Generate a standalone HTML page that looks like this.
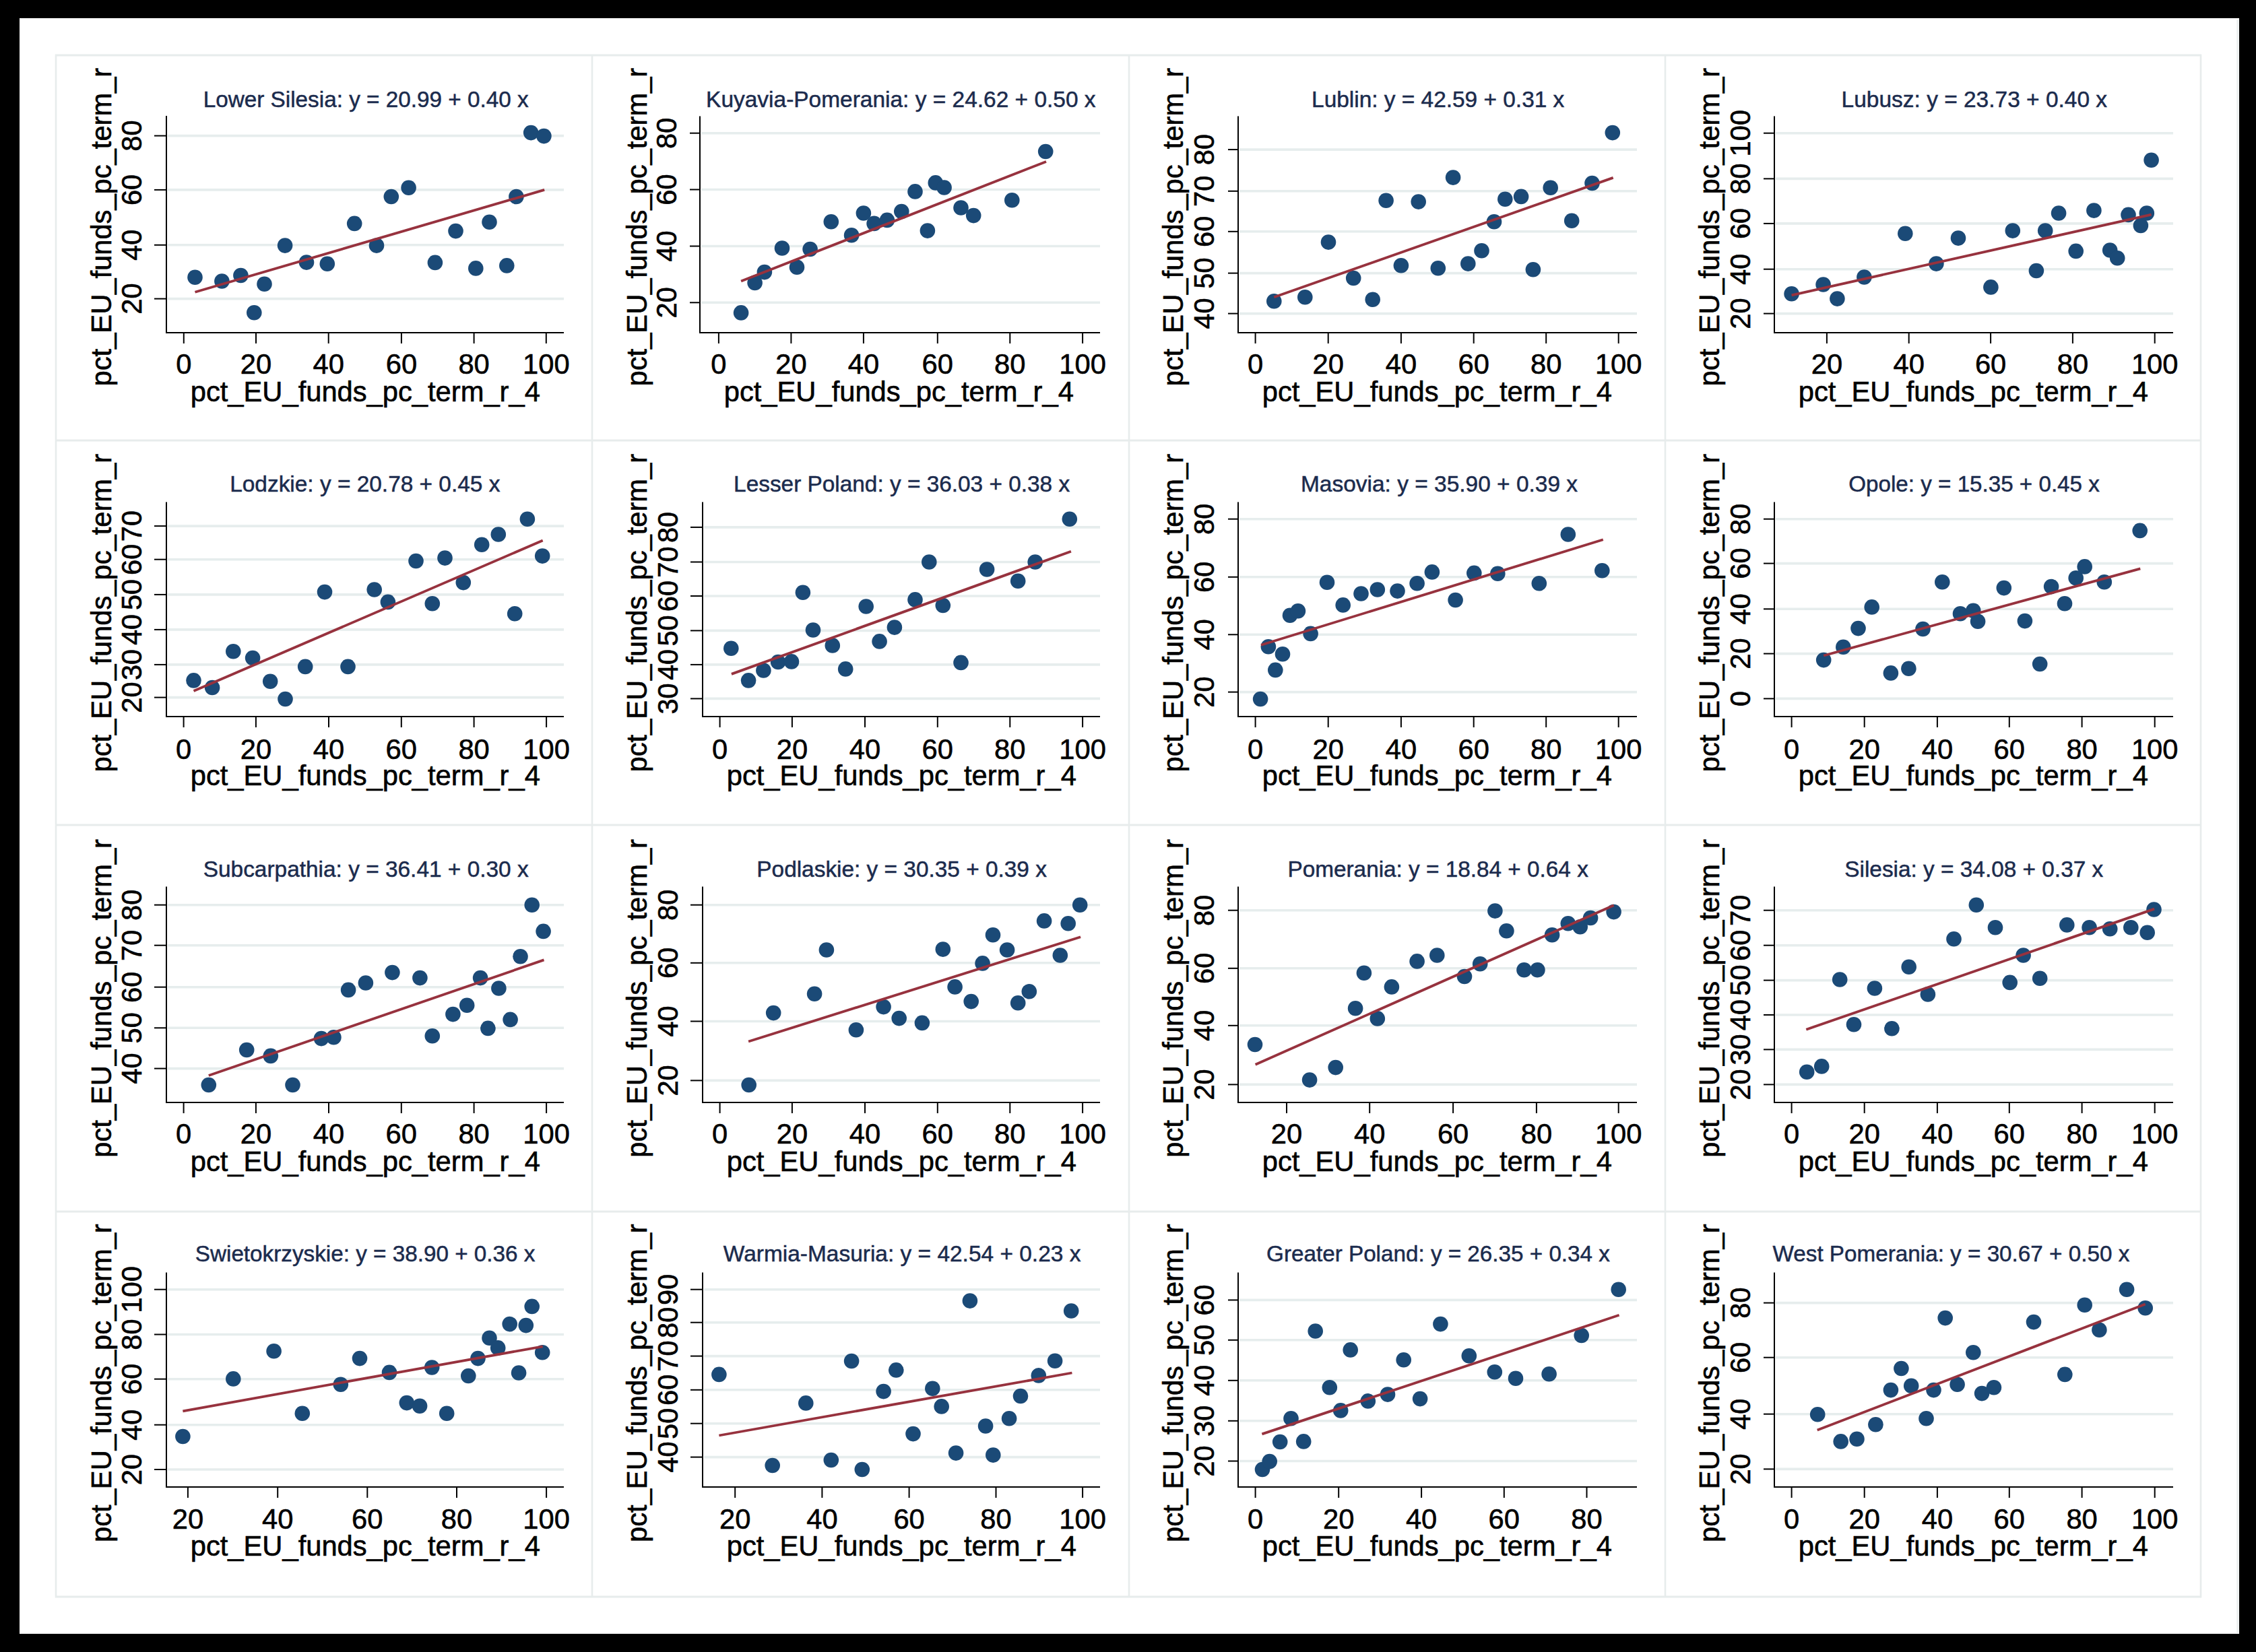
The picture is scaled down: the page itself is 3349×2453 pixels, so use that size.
<!DOCTYPE html><html><head><meta charset="utf-8"><style>html,body{margin:0;padding:0;background:#000;overflow:hidden}svg{display:block}text{font-family:"Liberation Sans",sans-serif}.a{font-size:41.7px;fill:#000;stroke:#000;stroke-width:.6px}.t{font-size:33.4px;fill:#1b2b4d;stroke:#1b2b4d;stroke-width:.5px}</style></head><body>
<svg width="3349" height="2453" viewBox="0 0 3349 2453">
<rect width="3349" height="2453" fill="#000"/>
<rect x="29" y="27" width="3295" height="2399" fill="#fff"/>
<line x1="3321.8" y1="29" x2="3321.8" y2="2425" stroke="#edf0f0" stroke-width="3"/>
<line x1="30" y1="2424.5" x2="3322" y2="2424.5" stroke="#f0f1f1" stroke-width="1"/>
<line x1="83" y1="81" x2="83" y2="2372" stroke="#e7ecec" stroke-width="2.6"/>
<line x1="879" y1="81" x2="879" y2="2372" stroke="#e7ecec" stroke-width="2.6"/>
<line x1="1676" y1="81" x2="1676" y2="2372" stroke="#e7ecec" stroke-width="2.6"/>
<line x1="2472" y1="81" x2="2472" y2="2372" stroke="#e7ecec" stroke-width="2.6"/>
<line x1="3267" y1="81" x2="3267" y2="2372" stroke="#e7ecec" stroke-width="2.6"/>
<line x1="82" y1="82" x2="3268" y2="82" stroke="#e7ecec" stroke-width="3"/>
<line x1="82" y1="654" x2="3268" y2="654" stroke="#e7ecec" stroke-width="3"/>
<line x1="82" y1="1225" x2="3268" y2="1225" stroke="#e7ecec" stroke-width="3"/>
<line x1="82" y1="1799" x2="3268" y2="1799" stroke="#e7ecec" stroke-width="3"/>
<line x1="82" y1="2371" x2="3268" y2="2371" stroke="#e7ecec" stroke-width="3"/>
<g><line x1="249.0" y1="201.6" x2="837.0" y2="201.6" stroke="#e6eded" stroke-width="3.6"/><line x1="249.0" y1="281.9" x2="837.0" y2="281.9" stroke="#e6eded" stroke-width="3.6"/><line x1="249.0" y1="363.8" x2="837.0" y2="363.8" stroke="#e6eded" stroke-width="3.6"/><line x1="249.0" y1="443.6" x2="837.0" y2="443.6" stroke="#e6eded" stroke-width="3.6"/><line x1="247.0" y1="172.0" x2="247.0" y2="495.0" stroke="#000" stroke-width="2"/><line x1="246.0" y1="494.0" x2="837.0" y2="494.0" stroke="#000" stroke-width="2"/><line x1="229.0" y1="201.6" x2="247.0" y2="201.6" stroke="#000" stroke-width="2"/><text transform="translate(209.8,201.6) rotate(-90)" text-anchor="middle" class="a">80</text><line x1="229.0" y1="281.9" x2="247.0" y2="281.9" stroke="#000" stroke-width="2"/><text transform="translate(209.8,281.9) rotate(-90)" text-anchor="middle" class="a">60</text><line x1="229.0" y1="363.8" x2="247.0" y2="363.8" stroke="#000" stroke-width="2"/><text transform="translate(209.8,363.8) rotate(-90)" text-anchor="middle" class="a">40</text><line x1="229.0" y1="443.6" x2="247.0" y2="443.6" stroke="#000" stroke-width="2"/><text transform="translate(209.8,443.6) rotate(-90)" text-anchor="middle" class="a">20</text><line x1="272.8" y1="494.0" x2="272.8" y2="510.0" stroke="#000" stroke-width="2"/><text x="272.8" y="554.5" text-anchor="middle" class="a">0</text><line x1="380.0" y1="494.0" x2="380.0" y2="510.0" stroke="#000" stroke-width="2"/><text x="380.0" y="554.5" text-anchor="middle" class="a">20</text><line x1="487.7" y1="494.0" x2="487.7" y2="510.0" stroke="#000" stroke-width="2"/><text x="487.7" y="554.5" text-anchor="middle" class="a">40</text><line x1="595.9" y1="494.0" x2="595.9" y2="510.0" stroke="#000" stroke-width="2"/><text x="595.9" y="554.5" text-anchor="middle" class="a">60</text><line x1="703.6" y1="494.0" x2="703.6" y2="510.0" stroke="#000" stroke-width="2"/><text x="703.6" y="554.5" text-anchor="middle" class="a">80</text><line x1="810.8" y1="494.0" x2="810.8" y2="510.0" stroke="#000" stroke-width="2"/><text x="810.8" y="554.5" text-anchor="middle" class="a">100</text><text x="542.3" y="595.8" text-anchor="middle" class="a">pct_EU_funds_pc_term_r_4</text><text transform="translate(165.0,337.1) rotate(-90)" text-anchor="middle" class="a">pct_EU_funds_pc_term_r</text><text x="301.7" y="159.0" class="t" textLength="483.0" lengthAdjust="spacingAndGlyphs">Lower Silesia: y = 20.99 + 0.40 x</text><circle cx="289.5" cy="411.7" r="11.3" fill="#1b4a77"/><circle cx="329.4" cy="417.5" r="11.3" fill="#1b4a77"/><circle cx="357.4" cy="409.0" r="11.3" fill="#1b4a77"/><circle cx="392.5" cy="421.8" r="11.3" fill="#1b4a77"/><circle cx="377.3" cy="464.3" r="11.3" fill="#1b4a77"/><circle cx="423.1" cy="364.6" r="11.3" fill="#1b4a77"/><circle cx="455.0" cy="389.6" r="11.3" fill="#1b4a77"/><circle cx="485.8" cy="391.7" r="11.3" fill="#1b4a77"/><circle cx="526.2" cy="331.9" r="11.3" fill="#1b4a77"/><circle cx="559.0" cy="364.6" r="11.3" fill="#1b4a77"/><circle cx="580.8" cy="292.0" r="11.3" fill="#1b4a77"/><circle cx="606.6" cy="278.7" r="11.3" fill="#1b4a77"/><circle cx="645.9" cy="389.9" r="11.3" fill="#1b4a77"/><circle cx="676.5" cy="343.1" r="11.3" fill="#1b4a77"/><circle cx="706.3" cy="398.4" r="11.3" fill="#1b4a77"/><circle cx="726.5" cy="329.8" r="11.3" fill="#1b4a77"/><circle cx="752.3" cy="394.4" r="11.3" fill="#1b4a77"/><circle cx="766.4" cy="292.0" r="11.3" fill="#1b4a77"/><circle cx="788.2" cy="197.1" r="11.3" fill="#1b4a77"/><circle cx="807.4" cy="202.1" r="11.3" fill="#1b4a77"/><line x1="289.5" y1="433.8" x2="808.2" y2="281.9" stroke="#97323e" stroke-width="3.8"/></g>
<g><line x1="1041.0" y1="197.7" x2="1633.0" y2="197.7" stroke="#e6eded" stroke-width="3.6"/><line x1="1041.0" y1="281.5" x2="1633.0" y2="281.5" stroke="#e6eded" stroke-width="3.6"/><line x1="1041.0" y1="365.5" x2="1633.0" y2="365.5" stroke="#e6eded" stroke-width="3.6"/><line x1="1041.0" y1="449.3" x2="1633.0" y2="449.3" stroke="#e6eded" stroke-width="3.6"/><line x1="1039.0" y1="172.5" x2="1039.0" y2="495.0" stroke="#000" stroke-width="2"/><line x1="1038.0" y1="494.0" x2="1633.0" y2="494.0" stroke="#000" stroke-width="2"/><line x1="1024.0" y1="197.7" x2="1039.0" y2="197.7" stroke="#000" stroke-width="2"/><text transform="translate(1003.8,197.7) rotate(-90)" text-anchor="middle" class="a">80</text><line x1="1024.0" y1="281.5" x2="1039.0" y2="281.5" stroke="#000" stroke-width="2"/><text transform="translate(1003.8,281.5) rotate(-90)" text-anchor="middle" class="a">60</text><line x1="1024.0" y1="365.5" x2="1039.0" y2="365.5" stroke="#000" stroke-width="2"/><text transform="translate(1003.8,365.5) rotate(-90)" text-anchor="middle" class="a">40</text><line x1="1024.0" y1="449.3" x2="1039.0" y2="449.3" stroke="#000" stroke-width="2"/><text transform="translate(1003.8,449.3) rotate(-90)" text-anchor="middle" class="a">20</text><line x1="1066.9" y1="494.0" x2="1066.9" y2="510.0" stroke="#000" stroke-width="2"/><text x="1066.9" y="554.5" text-anchor="middle" class="a">0</text><line x1="1174.4" y1="494.0" x2="1174.4" y2="510.0" stroke="#000" stroke-width="2"/><text x="1174.4" y="554.5" text-anchor="middle" class="a">20</text><line x1="1281.9" y1="494.0" x2="1281.9" y2="510.0" stroke="#000" stroke-width="2"/><text x="1281.9" y="554.5" text-anchor="middle" class="a">40</text><line x1="1391.8" y1="494.0" x2="1391.8" y2="510.0" stroke="#000" stroke-width="2"/><text x="1391.8" y="554.5" text-anchor="middle" class="a">60</text><line x1="1499.3" y1="494.0" x2="1499.3" y2="510.0" stroke="#000" stroke-width="2"/><text x="1499.3" y="554.5" text-anchor="middle" class="a">80</text><line x1="1607.1" y1="494.0" x2="1607.1" y2="510.0" stroke="#000" stroke-width="2"/><text x="1607.1" y="554.5" text-anchor="middle" class="a">100</text><text x="1334.3" y="595.8" text-anchor="middle" class="a">pct_EU_funds_pc_term_r_4</text><text transform="translate(960.0,337.1) rotate(-90)" text-anchor="middle" class="a">pct_EU_funds_pc_term_r</text><text x="1048.1" y="158.5" class="t" textLength="578.5" lengthAdjust="spacingAndGlyphs">Kuyavia-Pomerania: y = 24.62 + 0.50 x</text><circle cx="1100.1" cy="464.4" r="11.3" fill="#1b4a77"/><circle cx="1120.6" cy="419.9" r="11.3" fill="#1b4a77"/><circle cx="1134.9" cy="404.1" r="11.3" fill="#1b4a77"/><circle cx="1161.0" cy="368.5" r="11.3" fill="#1b4a77"/><circle cx="1183.0" cy="396.7" r="11.3" fill="#1b4a77"/><circle cx="1202.6" cy="370.0" r="11.3" fill="#1b4a77"/><circle cx="1233.8" cy="329.3" r="11.3" fill="#1b4a77"/><circle cx="1264.1" cy="349.2" r="11.3" fill="#1b4a77"/><circle cx="1281.9" cy="316.5" r="11.3" fill="#1b4a77"/><circle cx="1297.6" cy="331.9" r="11.3" fill="#1b4a77"/><circle cx="1316.9" cy="326.9" r="11.3" fill="#1b4a77"/><circle cx="1338.3" cy="314.1" r="11.3" fill="#1b4a77"/><circle cx="1358.5" cy="284.4" r="11.3" fill="#1b4a77"/><circle cx="1376.9" cy="342.6" r="11.3" fill="#1b4a77"/><circle cx="1388.8" cy="271.4" r="11.3" fill="#1b4a77"/><circle cx="1401.6" cy="278.5" r="11.3" fill="#1b4a77"/><circle cx="1426.5" cy="308.5" r="11.3" fill="#1b4a77"/><circle cx="1445.2" cy="320.1" r="11.3" fill="#1b4a77"/><circle cx="1502.3" cy="297.2" r="11.3" fill="#1b4a77"/><circle cx="1552.2" cy="225.0" r="11.3" fill="#1b4a77"/><line x1="1100.1" y1="417.5" x2="1553.0" y2="239.9" stroke="#97323e" stroke-width="3.8"/></g>
<g><line x1="1840.0" y1="222.1" x2="2430.0" y2="222.1" stroke="#e6eded" stroke-width="3.6"/><line x1="1840.0" y1="283.8" x2="2430.0" y2="283.8" stroke="#e6eded" stroke-width="3.6"/><line x1="1840.0" y1="343.8" x2="2430.0" y2="343.8" stroke="#e6eded" stroke-width="3.6"/><line x1="1840.0" y1="405.6" x2="2430.0" y2="405.6" stroke="#e6eded" stroke-width="3.6"/><line x1="1840.0" y1="465.6" x2="2430.0" y2="465.6" stroke="#e6eded" stroke-width="3.6"/><line x1="1838.0" y1="172.5" x2="1838.0" y2="495.0" stroke="#000" stroke-width="2"/><line x1="1837.0" y1="494.0" x2="2430.0" y2="494.0" stroke="#000" stroke-width="2"/><line x1="1823.0" y1="222.1" x2="1838.0" y2="222.1" stroke="#000" stroke-width="2"/><text transform="translate(1802.0,222.1) rotate(-90)" text-anchor="middle" class="a">80</text><line x1="1823.0" y1="283.8" x2="1838.0" y2="283.8" stroke="#000" stroke-width="2"/><text transform="translate(1802.0,283.8) rotate(-90)" text-anchor="middle" class="a">70</text><line x1="1823.0" y1="343.8" x2="1838.0" y2="343.8" stroke="#000" stroke-width="2"/><text transform="translate(1802.0,343.8) rotate(-90)" text-anchor="middle" class="a">60</text><line x1="1823.0" y1="405.6" x2="1838.0" y2="405.6" stroke="#000" stroke-width="2"/><text transform="translate(1802.0,405.6) rotate(-90)" text-anchor="middle" class="a">50</text><line x1="1823.0" y1="465.6" x2="1838.0" y2="465.6" stroke="#000" stroke-width="2"/><text transform="translate(1802.0,465.6) rotate(-90)" text-anchor="middle" class="a">40</text><line x1="1863.6" y1="494.0" x2="1863.6" y2="510.0" stroke="#000" stroke-width="2"/><text x="1863.6" y="554.5" text-anchor="middle" class="a">0</text><line x1="1971.7" y1="494.0" x2="1971.7" y2="510.0" stroke="#000" stroke-width="2"/><text x="1971.7" y="554.5" text-anchor="middle" class="a">20</text><line x1="2079.9" y1="494.0" x2="2079.9" y2="510.0" stroke="#000" stroke-width="2"/><text x="2079.9" y="554.5" text-anchor="middle" class="a">40</text><line x1="2187.7" y1="494.0" x2="2187.7" y2="510.0" stroke="#000" stroke-width="2"/><text x="2187.7" y="554.5" text-anchor="middle" class="a">60</text><line x1="2295.2" y1="494.0" x2="2295.2" y2="510.0" stroke="#000" stroke-width="2"/><text x="2295.2" y="554.5" text-anchor="middle" class="a">80</text><line x1="2402.7" y1="494.0" x2="2402.7" y2="510.0" stroke="#000" stroke-width="2"/><text x="2402.7" y="554.5" text-anchor="middle" class="a">100</text><text x="2133.3" y="595.8" text-anchor="middle" class="a">pct_EU_funds_pc_term_r_4</text><text transform="translate(1756.0,337.1) rotate(-90)" text-anchor="middle" class="a">pct_EU_funds_pc_term_r</text><text x="1947.1" y="158.5" class="t" textLength="375.2" lengthAdjust="spacingAndGlyphs">Lublin: y = 42.59 + 0.31 x</text><circle cx="1891.3" cy="447.2" r="11.3" fill="#1b4a77"/><circle cx="1937.3" cy="441.2" r="11.3" fill="#1b4a77"/><circle cx="1972.0" cy="359.6" r="11.3" fill="#1b4a77"/><circle cx="2009.2" cy="413.0" r="11.3" fill="#1b4a77"/><circle cx="2037.7" cy="444.8" r="11.3" fill="#1b4a77"/><circle cx="2057.6" cy="297.8" r="11.3" fill="#1b4a77"/><circle cx="2079.9" cy="394.3" r="11.3" fill="#1b4a77"/><circle cx="2105.7" cy="299.6" r="11.3" fill="#1b4a77"/><circle cx="2134.8" cy="398.2" r="11.3" fill="#1b4a77"/><circle cx="2157.1" cy="263.6" r="11.3" fill="#1b4a77"/><circle cx="2179.3" cy="391.6" r="11.3" fill="#1b4a77"/><circle cx="2199.5" cy="372.3" r="11.3" fill="#1b4a77"/><circle cx="2218.0" cy="329.3" r="11.3" fill="#1b4a77"/><circle cx="2234.3" cy="295.7" r="11.3" fill="#1b4a77"/><circle cx="2258.1" cy="291.9" r="11.3" fill="#1b4a77"/><circle cx="2275.9" cy="400.3" r="11.3" fill="#1b4a77"/><circle cx="2301.7" cy="278.8" r="11.3" fill="#1b4a77"/><circle cx="2333.2" cy="327.8" r="11.3" fill="#1b4a77"/><circle cx="2363.5" cy="272.0" r="11.3" fill="#1b4a77"/><circle cx="2393.8" cy="197.1" r="11.3" fill="#1b4a77"/><line x1="1891.3" y1="441.2" x2="2394.7" y2="263.9" stroke="#97323e" stroke-width="3.8"/></g>
<g><line x1="2636.0" y1="197.7" x2="3226.0" y2="197.7" stroke="#e6eded" stroke-width="3.6"/><line x1="2636.0" y1="265.4" x2="3226.0" y2="265.4" stroke="#e6eded" stroke-width="3.6"/><line x1="2636.0" y1="331.9" x2="3226.0" y2="331.9" stroke="#e6eded" stroke-width="3.6"/><line x1="2636.0" y1="399.7" x2="3226.0" y2="399.7" stroke="#e6eded" stroke-width="3.6"/><line x1="2636.0" y1="465.6" x2="3226.0" y2="465.6" stroke="#e6eded" stroke-width="3.6"/><line x1="2634.0" y1="172.5" x2="2634.0" y2="495.0" stroke="#000" stroke-width="2"/><line x1="2633.0" y1="494.0" x2="3226.0" y2="494.0" stroke="#000" stroke-width="2"/><line x1="2618.0" y1="197.7" x2="2634.0" y2="197.7" stroke="#000" stroke-width="2"/><text transform="translate(2598.0,197.7) rotate(-90)" text-anchor="middle" class="a">100</text><line x1="2618.0" y1="265.4" x2="2634.0" y2="265.4" stroke="#000" stroke-width="2"/><text transform="translate(2598.0,265.4) rotate(-90)" text-anchor="middle" class="a">80</text><line x1="2618.0" y1="331.9" x2="2634.0" y2="331.9" stroke="#000" stroke-width="2"/><text transform="translate(2598.0,331.9) rotate(-90)" text-anchor="middle" class="a">60</text><line x1="2618.0" y1="399.7" x2="2634.0" y2="399.7" stroke="#000" stroke-width="2"/><text transform="translate(2598.0,399.7) rotate(-90)" text-anchor="middle" class="a">40</text><line x1="2618.0" y1="465.6" x2="2634.0" y2="465.6" stroke="#000" stroke-width="2"/><text transform="translate(2598.0,465.6) rotate(-90)" text-anchor="middle" class="a">20</text><line x1="2711.9" y1="494.0" x2="2711.9" y2="510.0" stroke="#000" stroke-width="2"/><text x="2711.9" y="554.5" text-anchor="middle" class="a">20</text><line x1="2833.7" y1="494.0" x2="2833.7" y2="510.0" stroke="#000" stroke-width="2"/><text x="2833.7" y="554.5" text-anchor="middle" class="a">40</text><line x1="2955.1" y1="494.0" x2="2955.1" y2="510.0" stroke="#000" stroke-width="2"/><text x="2955.1" y="554.5" text-anchor="middle" class="a">60</text><line x1="3076.9" y1="494.0" x2="3076.9" y2="510.0" stroke="#000" stroke-width="2"/><text x="3076.9" y="554.5" text-anchor="middle" class="a">80</text><line x1="3198.7" y1="494.0" x2="3198.7" y2="510.0" stroke="#000" stroke-width="2"/><text x="3198.7" y="554.5" text-anchor="middle" class="a">100</text><text x="2929.3" y="595.8" text-anchor="middle" class="a">pct_EU_funds_pc_term_r_4</text><text transform="translate(2552.0,337.1) rotate(-90)" text-anchor="middle" class="a">pct_EU_funds_pc_term_r</text><text x="2733.6" y="158.5" class="t" textLength="394.5" lengthAdjust="spacingAndGlyphs">Lubusz: y = 23.73 + 0.40 x</text><circle cx="2659.6" cy="436.2" r="11.3" fill="#1b4a77"/><circle cx="2706.6" cy="422.5" r="11.3" fill="#1b4a77"/><circle cx="2727.4" cy="443.6" r="11.3" fill="#1b4a77"/><circle cx="2767.4" cy="411.5" r="11.3" fill="#1b4a77"/><circle cx="2828.3" cy="346.8" r="11.3" fill="#1b4a77"/><circle cx="2874.4" cy="391.6" r="11.3" fill="#1b4a77"/><circle cx="2907.0" cy="353.6" r="11.3" fill="#1b4a77"/><circle cx="2955.4" cy="426.4" r="11.3" fill="#1b4a77"/><circle cx="2987.8" cy="342.6" r="11.3" fill="#1b4a77"/><circle cx="3022.9" cy="402.0" r="11.3" fill="#1b4a77"/><circle cx="3036.2" cy="342.6" r="11.3" fill="#1b4a77"/><circle cx="3056.1" cy="316.5" r="11.3" fill="#1b4a77"/><circle cx="3081.7" cy="372.9" r="11.3" fill="#1b4a77"/><circle cx="3108.4" cy="312.6" r="11.3" fill="#1b4a77"/><circle cx="3132.2" cy="371.5" r="11.3" fill="#1b4a77"/><circle cx="3143.2" cy="383.3" r="11.3" fill="#1b4a77"/><circle cx="3159.5" cy="318.9" r="11.3" fill="#1b4a77"/><circle cx="3177.9" cy="334.9" r="11.3" fill="#1b4a77"/><circle cx="3186.8" cy="316.5" r="11.3" fill="#1b4a77"/><circle cx="3193.6" cy="237.8" r="11.3" fill="#1b4a77"/><line x1="2659.6" y1="438.3" x2="3193.6" y2="318.6" stroke="#97323e" stroke-width="3.8"/></g>
<g><line x1="249.0" y1="781.1" x2="837.0" y2="781.1" stroke="#e6eded" stroke-width="3.6"/><line x1="249.0" y1="830.7" x2="837.0" y2="830.7" stroke="#e6eded" stroke-width="3.6"/><line x1="249.0" y1="882.9" x2="837.0" y2="882.9" stroke="#e6eded" stroke-width="3.6"/><line x1="249.0" y1="934.9" x2="837.0" y2="934.9" stroke="#e6eded" stroke-width="3.6"/><line x1="249.0" y1="986.9" x2="837.0" y2="986.9" stroke="#e6eded" stroke-width="3.6"/><line x1="249.0" y1="1035.6" x2="837.0" y2="1035.6" stroke="#e6eded" stroke-width="3.6"/><line x1="247.0" y1="745.4" x2="247.0" y2="1065.0" stroke="#000" stroke-width="2"/><line x1="246.0" y1="1064.0" x2="837.0" y2="1064.0" stroke="#000" stroke-width="2"/><line x1="229.0" y1="781.1" x2="247.0" y2="781.1" stroke="#000" stroke-width="2"/><text transform="translate(209.8,781.1) rotate(-90)" text-anchor="middle" class="a">70</text><line x1="229.0" y1="830.7" x2="247.0" y2="830.7" stroke="#000" stroke-width="2"/><text transform="translate(209.8,830.7) rotate(-90)" text-anchor="middle" class="a">60</text><line x1="229.0" y1="882.9" x2="247.0" y2="882.9" stroke="#000" stroke-width="2"/><text transform="translate(209.8,882.9) rotate(-90)" text-anchor="middle" class="a">50</text><line x1="229.0" y1="934.9" x2="247.0" y2="934.9" stroke="#000" stroke-width="2"/><text transform="translate(209.8,934.9) rotate(-90)" text-anchor="middle" class="a">40</text><line x1="229.0" y1="986.9" x2="247.0" y2="986.9" stroke="#000" stroke-width="2"/><text transform="translate(209.8,986.9) rotate(-90)" text-anchor="middle" class="a">30</text><line x1="229.0" y1="1035.6" x2="247.0" y2="1035.6" stroke="#000" stroke-width="2"/><text transform="translate(209.8,1035.6) rotate(-90)" text-anchor="middle" class="a">20</text><line x1="272.6" y1="1064.0" x2="272.6" y2="1080.0" stroke="#000" stroke-width="2"/><text x="272.6" y="1127.0" text-anchor="middle" class="a">0</text><line x1="379.9" y1="1064.0" x2="379.9" y2="1080.0" stroke="#000" stroke-width="2"/><text x="379.9" y="1127.0" text-anchor="middle" class="a">20</text><line x1="488.0" y1="1064.0" x2="488.0" y2="1080.0" stroke="#000" stroke-width="2"/><text x="488.0" y="1127.0" text-anchor="middle" class="a">40</text><line x1="595.8" y1="1064.0" x2="595.8" y2="1080.0" stroke="#000" stroke-width="2"/><text x="595.8" y="1127.0" text-anchor="middle" class="a">60</text><line x1="703.6" y1="1064.0" x2="703.6" y2="1080.0" stroke="#000" stroke-width="2"/><text x="703.6" y="1127.0" text-anchor="middle" class="a">80</text><line x1="811.1" y1="1064.0" x2="811.1" y2="1080.0" stroke="#000" stroke-width="2"/><text x="811.1" y="1127.0" text-anchor="middle" class="a">100</text><text x="542.3" y="1165.8" text-anchor="middle" class="a">pct_EU_funds_pc_term_r_4</text><text transform="translate(165.0,910.2) rotate(-90)" text-anchor="middle" class="a">pct_EU_funds_pc_term_r</text><text x="341.2" y="729.7" class="t" textLength="401.2" lengthAdjust="spacingAndGlyphs">Lodzkie: y = 20.78 + 0.45 x</text><circle cx="287.5" cy="1010.4" r="11.3" fill="#1b4a77"/><circle cx="315.1" cy="1021.0" r="11.3" fill="#1b4a77"/><circle cx="346.3" cy="967.3" r="11.3" fill="#1b4a77"/><circle cx="375.1" cy="977.1" r="11.3" fill="#1b4a77"/><circle cx="401.2" cy="1011.8" r="11.3" fill="#1b4a77"/><circle cx="423.5" cy="1038.0" r="11.3" fill="#1b4a77"/><circle cx="453.2" cy="989.9" r="11.3" fill="#1b4a77"/><circle cx="482.0" cy="879.1" r="11.3" fill="#1b4a77"/><circle cx="516.5" cy="989.9" r="11.3" fill="#1b4a77"/><circle cx="555.7" cy="875.5" r="11.3" fill="#1b4a77"/><circle cx="575.9" cy="893.9" r="11.3" fill="#1b4a77"/><circle cx="617.5" cy="833.0" r="11.3" fill="#1b4a77"/><circle cx="641.8" cy="896.3" r="11.3" fill="#1b4a77"/><circle cx="660.5" cy="828.6" r="11.3" fill="#1b4a77"/><circle cx="687.8" cy="865.1" r="11.3" fill="#1b4a77"/><circle cx="715.2" cy="808.7" r="11.3" fill="#1b4a77"/><circle cx="739.8" cy="793.5" r="11.3" fill="#1b4a77"/><circle cx="764.2" cy="911.2" r="11.3" fill="#1b4a77"/><circle cx="782.9" cy="770.7" r="11.3" fill="#1b4a77"/><circle cx="805.2" cy="825.6" r="11.3" fill="#1b4a77"/><line x1="287.5" y1="1026.1" x2="805.7" y2="802.5" stroke="#97323e" stroke-width="3.8"/></g>
<g><line x1="1045.0" y1="782.9" x2="1633.0" y2="782.9" stroke="#e6eded" stroke-width="3.6"/><line x1="1045.0" y1="834.5" x2="1633.0" y2="834.5" stroke="#e6eded" stroke-width="3.6"/><line x1="1045.0" y1="885.0" x2="1633.0" y2="885.0" stroke="#e6eded" stroke-width="3.6"/><line x1="1045.0" y1="936.4" x2="1633.0" y2="936.4" stroke="#e6eded" stroke-width="3.6"/><line x1="1045.0" y1="986.9" x2="1633.0" y2="986.9" stroke="#e6eded" stroke-width="3.6"/><line x1="1045.0" y1="1037.4" x2="1633.0" y2="1037.4" stroke="#e6eded" stroke-width="3.6"/><line x1="1043.0" y1="745.4" x2="1043.0" y2="1065.0" stroke="#000" stroke-width="2"/><line x1="1042.0" y1="1064.0" x2="1633.0" y2="1064.0" stroke="#000" stroke-width="2"/><line x1="1025.0" y1="782.9" x2="1043.0" y2="782.9" stroke="#000" stroke-width="2"/><text transform="translate(1005.8,782.9) rotate(-90)" text-anchor="middle" class="a">80</text><line x1="1025.0" y1="834.5" x2="1043.0" y2="834.5" stroke="#000" stroke-width="2"/><text transform="translate(1005.8,834.5) rotate(-90)" text-anchor="middle" class="a">70</text><line x1="1025.0" y1="885.0" x2="1043.0" y2="885.0" stroke="#000" stroke-width="2"/><text transform="translate(1005.8,885.0) rotate(-90)" text-anchor="middle" class="a">60</text><line x1="1025.0" y1="936.4" x2="1043.0" y2="936.4" stroke="#000" stroke-width="2"/><text transform="translate(1005.8,936.4) rotate(-90)" text-anchor="middle" class="a">50</text><line x1="1025.0" y1="986.9" x2="1043.0" y2="986.9" stroke="#000" stroke-width="2"/><text transform="translate(1005.8,986.9) rotate(-90)" text-anchor="middle" class="a">40</text><line x1="1025.0" y1="1037.4" x2="1043.0" y2="1037.4" stroke="#000" stroke-width="2"/><text transform="translate(1005.8,1037.4) rotate(-90)" text-anchor="middle" class="a">30</text><line x1="1068.6" y1="1064.0" x2="1068.6" y2="1080.0" stroke="#000" stroke-width="2"/><text x="1068.6" y="1127.0" text-anchor="middle" class="a">0</text><line x1="1175.9" y1="1064.0" x2="1175.9" y2="1080.0" stroke="#000" stroke-width="2"/><text x="1175.9" y="1127.0" text-anchor="middle" class="a">20</text><line x1="1284.0" y1="1064.0" x2="1284.0" y2="1080.0" stroke="#000" stroke-width="2"/><text x="1284.0" y="1127.0" text-anchor="middle" class="a">40</text><line x1="1391.8" y1="1064.0" x2="1391.8" y2="1080.0" stroke="#000" stroke-width="2"/><text x="1391.8" y="1127.0" text-anchor="middle" class="a">60</text><line x1="1499.3" y1="1064.0" x2="1499.3" y2="1080.0" stroke="#000" stroke-width="2"/><text x="1499.3" y="1127.0" text-anchor="middle" class="a">80</text><line x1="1607.1" y1="1064.0" x2="1607.1" y2="1080.0" stroke="#000" stroke-width="2"/><text x="1607.1" y="1127.0" text-anchor="middle" class="a">100</text><text x="1338.3" y="1165.8" text-anchor="middle" class="a">pct_EU_funds_pc_term_r_4</text><text transform="translate(959.8,910.2) rotate(-90)" text-anchor="middle" class="a">pct_EU_funds_pc_term_r</text><text x="1089.1" y="729.7" class="t" textLength="499.0" lengthAdjust="spacingAndGlyphs">Lesser Poland: y = 36.03 + 0.38 x</text><circle cx="1085.3" cy="962.8" r="11.3" fill="#1b4a77"/><circle cx="1111.1" cy="1010.4" r="11.3" fill="#1b4a77"/><circle cx="1133.4" cy="995.5" r="11.3" fill="#1b4a77"/><circle cx="1155.1" cy="983.0" r="11.3" fill="#1b4a77"/><circle cx="1175.0" cy="982.4" r="11.3" fill="#1b4a77"/><circle cx="1191.9" cy="879.7" r="11.3" fill="#1b4a77"/><circle cx="1207.0" cy="935.5" r="11.3" fill="#1b4a77"/><circle cx="1235.8" cy="958.4" r="11.3" fill="#1b4a77"/><circle cx="1255.2" cy="993.4" r="11.3" fill="#1b4a77"/><circle cx="1285.7" cy="900.5" r="11.3" fill="#1b4a77"/><circle cx="1305.6" cy="952.4" r="11.3" fill="#1b4a77"/><circle cx="1327.9" cy="931.6" r="11.3" fill="#1b4a77"/><circle cx="1358.5" cy="890.4" r="11.3" fill="#1b4a77"/><circle cx="1379.3" cy="834.5" r="11.3" fill="#1b4a77"/><circle cx="1399.8" cy="899.0" r="11.3" fill="#1b4a77"/><circle cx="1426.5" cy="983.9" r="11.3" fill="#1b4a77"/><circle cx="1465.1" cy="845.5" r="11.3" fill="#1b4a77"/><circle cx="1511.2" cy="862.7" r="11.3" fill="#1b4a77"/><circle cx="1536.7" cy="834.5" r="11.3" fill="#1b4a77"/><circle cx="1587.8" cy="770.7" r="11.3" fill="#1b4a77"/><line x1="1085.9" y1="1000.9" x2="1589.9" y2="818.8" stroke="#97323e" stroke-width="3.8"/></g>
<g><line x1="1840.0" y1="770.7" x2="2430.0" y2="770.7" stroke="#e6eded" stroke-width="3.6"/><line x1="1840.0" y1="856.8" x2="2430.0" y2="856.8" stroke="#e6eded" stroke-width="3.6"/><line x1="1840.0" y1="942.3" x2="2430.0" y2="942.3" stroke="#e6eded" stroke-width="3.6"/><line x1="1840.0" y1="1027.6" x2="2430.0" y2="1027.6" stroke="#e6eded" stroke-width="3.6"/><line x1="1838.0" y1="745.4" x2="1838.0" y2="1065.0" stroke="#000" stroke-width="2"/><line x1="1837.0" y1="1064.0" x2="2430.0" y2="1064.0" stroke="#000" stroke-width="2"/><line x1="1823.0" y1="770.7" x2="1838.0" y2="770.7" stroke="#000" stroke-width="2"/><text transform="translate(1802.0,770.7) rotate(-90)" text-anchor="middle" class="a">80</text><line x1="1823.0" y1="856.8" x2="1838.0" y2="856.8" stroke="#000" stroke-width="2"/><text transform="translate(1802.0,856.8) rotate(-90)" text-anchor="middle" class="a">60</text><line x1="1823.0" y1="942.3" x2="1838.0" y2="942.3" stroke="#000" stroke-width="2"/><text transform="translate(1802.0,942.3) rotate(-90)" text-anchor="middle" class="a">40</text><line x1="1823.0" y1="1027.6" x2="1838.0" y2="1027.6" stroke="#000" stroke-width="2"/><text transform="translate(1802.0,1027.6) rotate(-90)" text-anchor="middle" class="a">20</text><line x1="1863.6" y1="1064.0" x2="1863.6" y2="1080.0" stroke="#000" stroke-width="2"/><text x="1863.6" y="1127.0" text-anchor="middle" class="a">0</text><line x1="1971.7" y1="1064.0" x2="1971.7" y2="1080.0" stroke="#000" stroke-width="2"/><text x="1971.7" y="1127.0" text-anchor="middle" class="a">20</text><line x1="2079.9" y1="1064.0" x2="2079.9" y2="1080.0" stroke="#000" stroke-width="2"/><text x="2079.9" y="1127.0" text-anchor="middle" class="a">40</text><line x1="2187.7" y1="1064.0" x2="2187.7" y2="1080.0" stroke="#000" stroke-width="2"/><text x="2187.7" y="1127.0" text-anchor="middle" class="a">60</text><line x1="2295.2" y1="1064.0" x2="2295.2" y2="1080.0" stroke="#000" stroke-width="2"/><text x="2295.2" y="1127.0" text-anchor="middle" class="a">80</text><line x1="2402.7" y1="1064.0" x2="2402.7" y2="1080.0" stroke="#000" stroke-width="2"/><text x="2402.7" y="1127.0" text-anchor="middle" class="a">100</text><text x="2133.3" y="1165.8" text-anchor="middle" class="a">pct_EU_funds_pc_term_r_4</text><text transform="translate(1756.0,910.2) rotate(-90)" text-anchor="middle" class="a">pct_EU_funds_pc_term_r</text><text x="1931.0" y="729.7" class="t" textLength="411.1" lengthAdjust="spacingAndGlyphs">Masovia: y = 35.90 + 0.39 x</text><circle cx="1871.1" cy="1038.0" r="11.3" fill="#1b4a77"/><circle cx="1882.9" cy="960.2" r="11.3" fill="#1b4a77"/><circle cx="1893.3" cy="994.9" r="11.3" fill="#1b4a77"/><circle cx="1904.0" cy="971.2" r="11.3" fill="#1b4a77"/><circle cx="1915.0" cy="913.8" r="11.3" fill="#1b4a77"/><circle cx="1926.9" cy="907.3" r="11.3" fill="#1b4a77"/><circle cx="1945.6" cy="940.9" r="11.3" fill="#1b4a77"/><circle cx="1970.0" cy="864.8" r="11.3" fill="#1b4a77"/><circle cx="1993.7" cy="898.4" r="11.3" fill="#1b4a77"/><circle cx="2020.5" cy="881.5" r="11.3" fill="#1b4a77"/><circle cx="2044.8" cy="875.5" r="11.3" fill="#1b4a77"/><circle cx="2074.5" cy="877.6" r="11.3" fill="#1b4a77"/><circle cx="2103.6" cy="866.3" r="11.3" fill="#1b4a77"/><circle cx="2125.9" cy="849.4" r="11.3" fill="#1b4a77"/><circle cx="2160.6" cy="891.0" r="11.3" fill="#1b4a77"/><circle cx="2188.3" cy="850.9" r="11.3" fill="#1b4a77"/><circle cx="2223.3" cy="851.8" r="11.3" fill="#1b4a77"/><circle cx="2284.8" cy="866.3" r="11.3" fill="#1b4a77"/><circle cx="2327.8" cy="793.5" r="11.3" fill="#1b4a77"/><circle cx="2378.3" cy="847.3" r="11.3" fill="#1b4a77"/><line x1="1872.0" y1="957.8" x2="2379.8" y2="801.3" stroke="#97323e" stroke-width="3.8"/></g>
<g><line x1="2636.0" y1="770.7" x2="3226.0" y2="770.7" stroke="#e6eded" stroke-width="3.6"/><line x1="2636.0" y1="836.6" x2="3226.0" y2="836.6" stroke="#e6eded" stroke-width="3.6"/><line x1="2636.0" y1="904.3" x2="3226.0" y2="904.3" stroke="#e6eded" stroke-width="3.6"/><line x1="2636.0" y1="970.6" x2="3226.0" y2="970.6" stroke="#e6eded" stroke-width="3.6"/><line x1="2636.0" y1="1037.4" x2="3226.0" y2="1037.4" stroke="#e6eded" stroke-width="3.6"/><line x1="2634.0" y1="745.4" x2="2634.0" y2="1065.0" stroke="#000" stroke-width="2"/><line x1="2633.0" y1="1064.0" x2="3226.0" y2="1064.0" stroke="#000" stroke-width="2"/><line x1="2618.0" y1="770.7" x2="2634.0" y2="770.7" stroke="#000" stroke-width="2"/><text transform="translate(2598.0,770.7) rotate(-90)" text-anchor="middle" class="a">80</text><line x1="2618.0" y1="836.6" x2="2634.0" y2="836.6" stroke="#000" stroke-width="2"/><text transform="translate(2598.0,836.6) rotate(-90)" text-anchor="middle" class="a">60</text><line x1="2618.0" y1="904.3" x2="2634.0" y2="904.3" stroke="#000" stroke-width="2"/><text transform="translate(2598.0,904.3) rotate(-90)" text-anchor="middle" class="a">40</text><line x1="2618.0" y1="970.6" x2="2634.0" y2="970.6" stroke="#000" stroke-width="2"/><text transform="translate(2598.0,970.6) rotate(-90)" text-anchor="middle" class="a">20</text><line x1="2618.0" y1="1037.4" x2="2634.0" y2="1037.4" stroke="#000" stroke-width="2"/><text transform="translate(2598.0,1037.4) rotate(-90)" text-anchor="middle" class="a">0</text><line x1="2659.6" y1="1064.0" x2="2659.6" y2="1080.0" stroke="#000" stroke-width="2"/><text x="2659.6" y="1127.0" text-anchor="middle" class="a">0</text><line x1="2767.7" y1="1064.0" x2="2767.7" y2="1080.0" stroke="#000" stroke-width="2"/><text x="2767.7" y="1127.0" text-anchor="middle" class="a">20</text><line x1="2875.9" y1="1064.0" x2="2875.9" y2="1080.0" stroke="#000" stroke-width="2"/><text x="2875.9" y="1127.0" text-anchor="middle" class="a">40</text><line x1="2982.8" y1="1064.0" x2="2982.8" y2="1080.0" stroke="#000" stroke-width="2"/><text x="2982.8" y="1127.0" text-anchor="middle" class="a">60</text><line x1="3090.6" y1="1064.0" x2="3090.6" y2="1080.0" stroke="#000" stroke-width="2"/><text x="3090.6" y="1127.0" text-anchor="middle" class="a">80</text><line x1="3198.7" y1="1064.0" x2="3198.7" y2="1080.0" stroke="#000" stroke-width="2"/><text x="3198.7" y="1127.0" text-anchor="middle" class="a">100</text><text x="2929.3" y="1165.8" text-anchor="middle" class="a">pct_EU_funds_pc_term_r_4</text><text transform="translate(2552.0,910.2) rotate(-90)" text-anchor="middle" class="a">pct_EU_funds_pc_term_r</text><text x="2744.3" y="729.7" class="t" textLength="372.5" lengthAdjust="spacingAndGlyphs">Opole: y = 15.35 + 0.45 x</text><circle cx="2707.2" cy="980.1" r="11.3" fill="#1b4a77"/><circle cx="2736.3" cy="960.8" r="11.3" fill="#1b4a77"/><circle cx="2758.5" cy="933.1" r="11.3" fill="#1b4a77"/><circle cx="2778.7" cy="901.4" r="11.3" fill="#1b4a77"/><circle cx="2806.9" cy="999.4" r="11.3" fill="#1b4a77"/><circle cx="2833.4" cy="992.8" r="11.3" fill="#1b4a77"/><circle cx="2854.5" cy="934.0" r="11.3" fill="#1b4a77"/><circle cx="2883.3" cy="864.2" r="11.3" fill="#1b4a77"/><circle cx="2910.0" cy="911.2" r="11.3" fill="#1b4a77"/><circle cx="2929.3" cy="906.7" r="11.3" fill="#1b4a77"/><circle cx="2936.1" cy="922.7" r="11.3" fill="#1b4a77"/><circle cx="2974.8" cy="873.1" r="11.3" fill="#1b4a77"/><circle cx="3005.9" cy="922.1" r="11.3" fill="#1b4a77"/><circle cx="3028.2" cy="986.0" r="11.3" fill="#1b4a77"/><circle cx="3045.1" cy="871.1" r="11.3" fill="#1b4a77"/><circle cx="3065.0" cy="896.3" r="11.3" fill="#1b4a77"/><circle cx="3081.7" cy="858.3" r="11.3" fill="#1b4a77"/><circle cx="3094.7" cy="841.4" r="11.3" fill="#1b4a77"/><circle cx="3123.8" cy="864.2" r="11.3" fill="#1b4a77"/><circle cx="3176.7" cy="787.9" r="11.3" fill="#1b4a77"/><line x1="2707.2" y1="973.5" x2="3177.3" y2="844.3" stroke="#97323e" stroke-width="3.8"/></g>
<g><line x1="249.0" y1="1343.7" x2="837.0" y2="1343.7" stroke="#e6eded" stroke-width="3.6"/><line x1="249.0" y1="1403.7" x2="837.0" y2="1403.7" stroke="#e6eded" stroke-width="3.6"/><line x1="249.0" y1="1465.7" x2="837.0" y2="1465.7" stroke="#e6eded" stroke-width="3.6"/><line x1="249.0" y1="1526.3" x2="837.0" y2="1526.3" stroke="#e6eded" stroke-width="3.6"/><line x1="249.0" y1="1586.6" x2="837.0" y2="1586.6" stroke="#e6eded" stroke-width="3.6"/><line x1="247.0" y1="1316.4" x2="247.0" y2="1638.0" stroke="#000" stroke-width="2"/><line x1="246.0" y1="1637.0" x2="837.0" y2="1637.0" stroke="#000" stroke-width="2"/><line x1="229.0" y1="1343.7" x2="247.0" y2="1343.7" stroke="#000" stroke-width="2"/><text transform="translate(209.8,1343.7) rotate(-90)" text-anchor="middle" class="a">80</text><line x1="229.0" y1="1403.7" x2="247.0" y2="1403.7" stroke="#000" stroke-width="2"/><text transform="translate(209.8,1403.7) rotate(-90)" text-anchor="middle" class="a">70</text><line x1="229.0" y1="1465.7" x2="247.0" y2="1465.7" stroke="#000" stroke-width="2"/><text transform="translate(209.8,1465.7) rotate(-90)" text-anchor="middle" class="a">60</text><line x1="229.0" y1="1526.3" x2="247.0" y2="1526.3" stroke="#000" stroke-width="2"/><text transform="translate(209.8,1526.3) rotate(-90)" text-anchor="middle" class="a">50</text><line x1="229.0" y1="1586.6" x2="247.0" y2="1586.6" stroke="#000" stroke-width="2"/><text transform="translate(209.8,1586.6) rotate(-90)" text-anchor="middle" class="a">40</text><line x1="272.6" y1="1637.0" x2="272.6" y2="1653.0" stroke="#000" stroke-width="2"/><text x="272.6" y="1697.5" text-anchor="middle" class="a">0</text><line x1="379.9" y1="1637.0" x2="379.9" y2="1653.0" stroke="#000" stroke-width="2"/><text x="379.9" y="1697.5" text-anchor="middle" class="a">20</text><line x1="488.0" y1="1637.0" x2="488.0" y2="1653.0" stroke="#000" stroke-width="2"/><text x="488.0" y="1697.5" text-anchor="middle" class="a">40</text><line x1="595.8" y1="1637.0" x2="595.8" y2="1653.0" stroke="#000" stroke-width="2"/><text x="595.8" y="1697.5" text-anchor="middle" class="a">60</text><line x1="703.6" y1="1637.0" x2="703.6" y2="1653.0" stroke="#000" stroke-width="2"/><text x="703.6" y="1697.5" text-anchor="middle" class="a">80</text><line x1="811.1" y1="1637.0" x2="811.1" y2="1653.0" stroke="#000" stroke-width="2"/><text x="811.1" y="1697.5" text-anchor="middle" class="a">100</text><text x="542.3" y="1738.8" text-anchor="middle" class="a">pct_EU_funds_pc_term_r_4</text><text transform="translate(165.0,1482.4) rotate(-90)" text-anchor="middle" class="a">pct_EU_funds_pc_term_r</text><text x="301.7" y="1301.5" class="t" textLength="483.0" lengthAdjust="spacingAndGlyphs">Subcarpathia: y = 36.41 + 0.30 x</text><circle cx="309.8" cy="1611.0" r="11.3" fill="#1b4a77"/><circle cx="366.2" cy="1559.0" r="11.3" fill="#1b4a77"/><circle cx="401.8" cy="1567.9" r="11.3" fill="#1b4a77"/><circle cx="434.5" cy="1611.0" r="11.3" fill="#1b4a77"/><circle cx="477.0" cy="1542.1" r="11.3" fill="#1b4a77"/><circle cx="495.4" cy="1540.3" r="11.3" fill="#1b4a77"/><circle cx="517.1" cy="1469.9" r="11.3" fill="#1b4a77"/><circle cx="542.9" cy="1459.5" r="11.3" fill="#1b4a77"/><circle cx="582.4" cy="1444.1" r="11.3" fill="#1b4a77"/><circle cx="623.4" cy="1452.1" r="11.3" fill="#1b4a77"/><circle cx="641.8" cy="1538.2" r="11.3" fill="#1b4a77"/><circle cx="672.4" cy="1506.1" r="11.3" fill="#1b4a77"/><circle cx="693.2" cy="1492.8" r="11.3" fill="#1b4a77"/><circle cx="713.1" cy="1452.1" r="11.3" fill="#1b4a77"/><circle cx="724.4" cy="1526.9" r="11.3" fill="#1b4a77"/><circle cx="740.4" cy="1467.5" r="11.3" fill="#1b4a77"/><circle cx="757.6" cy="1513.9" r="11.3" fill="#1b4a77"/><circle cx="772.5" cy="1420.3" r="11.3" fill="#1b4a77"/><circle cx="789.7" cy="1343.7" r="11.3" fill="#1b4a77"/><circle cx="806.6" cy="1382.9" r="11.3" fill="#1b4a77"/><line x1="309.8" y1="1597.0" x2="807.5" y2="1425.4" stroke="#97323e" stroke-width="3.8"/></g>
<g><line x1="1045.0" y1="1343.7" x2="1633.0" y2="1343.7" stroke="#e6eded" stroke-width="3.6"/><line x1="1045.0" y1="1429.8" x2="1633.0" y2="1429.8" stroke="#e6eded" stroke-width="3.6"/><line x1="1045.0" y1="1516.5" x2="1633.0" y2="1516.5" stroke="#e6eded" stroke-width="3.6"/><line x1="1045.0" y1="1604.4" x2="1633.0" y2="1604.4" stroke="#e6eded" stroke-width="3.6"/><line x1="1043.0" y1="1316.4" x2="1043.0" y2="1638.0" stroke="#000" stroke-width="2"/><line x1="1042.0" y1="1637.0" x2="1633.0" y2="1637.0" stroke="#000" stroke-width="2"/><line x1="1025.0" y1="1343.7" x2="1043.0" y2="1343.7" stroke="#000" stroke-width="2"/><text transform="translate(1005.8,1343.7) rotate(-90)" text-anchor="middle" class="a">80</text><line x1="1025.0" y1="1429.8" x2="1043.0" y2="1429.8" stroke="#000" stroke-width="2"/><text transform="translate(1005.8,1429.8) rotate(-90)" text-anchor="middle" class="a">60</text><line x1="1025.0" y1="1516.5" x2="1043.0" y2="1516.5" stroke="#000" stroke-width="2"/><text transform="translate(1005.8,1516.5) rotate(-90)" text-anchor="middle" class="a">40</text><line x1="1025.0" y1="1604.4" x2="1043.0" y2="1604.4" stroke="#000" stroke-width="2"/><text transform="translate(1005.8,1604.4) rotate(-90)" text-anchor="middle" class="a">20</text><line x1="1068.6" y1="1637.0" x2="1068.6" y2="1653.0" stroke="#000" stroke-width="2"/><text x="1068.6" y="1697.5" text-anchor="middle" class="a">0</text><line x1="1175.9" y1="1637.0" x2="1175.9" y2="1653.0" stroke="#000" stroke-width="2"/><text x="1175.9" y="1697.5" text-anchor="middle" class="a">20</text><line x1="1284.0" y1="1637.0" x2="1284.0" y2="1653.0" stroke="#000" stroke-width="2"/><text x="1284.0" y="1697.5" text-anchor="middle" class="a">40</text><line x1="1391.8" y1="1637.0" x2="1391.8" y2="1653.0" stroke="#000" stroke-width="2"/><text x="1391.8" y="1697.5" text-anchor="middle" class="a">60</text><line x1="1499.3" y1="1637.0" x2="1499.3" y2="1653.0" stroke="#000" stroke-width="2"/><text x="1499.3" y="1697.5" text-anchor="middle" class="a">80</text><line x1="1607.1" y1="1637.0" x2="1607.1" y2="1653.0" stroke="#000" stroke-width="2"/><text x="1607.1" y="1697.5" text-anchor="middle" class="a">100</text><text x="1338.3" y="1738.8" text-anchor="middle" class="a">pct_EU_funds_pc_term_r_4</text><text transform="translate(959.8,1482.4) rotate(-90)" text-anchor="middle" class="a">pct_EU_funds_pc_term_r</text><text x="1123.3" y="1301.5" class="t" textLength="430.6" lengthAdjust="spacingAndGlyphs">Podlaskie: y = 30.35 + 0.39 x</text><circle cx="1111.7" cy="1611.0" r="11.3" fill="#1b4a77"/><circle cx="1148.2" cy="1504.1" r="11.3" fill="#1b4a77"/><circle cx="1209.1" cy="1475.8" r="11.3" fill="#1b4a77"/><circle cx="1226.9" cy="1410.5" r="11.3" fill="#1b4a77"/><circle cx="1270.9" cy="1529.3" r="11.3" fill="#1b4a77"/><circle cx="1311.6" cy="1495.1" r="11.3" fill="#1b4a77"/><circle cx="1334.7" cy="1512.1" r="11.3" fill="#1b4a77"/><circle cx="1368.9" cy="1518.9" r="11.3" fill="#1b4a77"/><circle cx="1399.8" cy="1409.6" r="11.3" fill="#1b4a77"/><circle cx="1417.6" cy="1465.4" r="11.3" fill="#1b4a77"/><circle cx="1441.7" cy="1487.1" r="11.3" fill="#1b4a77"/><circle cx="1458.6" cy="1430.4" r="11.3" fill="#1b4a77"/><circle cx="1474.0" cy="1388.2" r="11.3" fill="#1b4a77"/><circle cx="1495.1" cy="1410.5" r="11.3" fill="#1b4a77"/><circle cx="1511.2" cy="1489.2" r="11.3" fill="#1b4a77"/><circle cx="1527.8" cy="1472.3" r="11.3" fill="#1b4a77"/><circle cx="1550.1" cy="1367.4" r="11.3" fill="#1b4a77"/><circle cx="1573.8" cy="1418.5" r="11.3" fill="#1b4a77"/><circle cx="1585.7" cy="1371.3" r="11.3" fill="#1b4a77"/><circle cx="1603.2" cy="1343.7" r="11.3" fill="#1b4a77"/><line x1="1111.1" y1="1546.5" x2="1604.1" y2="1391.2" stroke="#97323e" stroke-width="3.8"/></g>
<g><line x1="1840.0" y1="1351.7" x2="2430.0" y2="1351.7" stroke="#e6eded" stroke-width="3.6"/><line x1="1840.0" y1="1437.8" x2="2430.0" y2="1437.8" stroke="#e6eded" stroke-width="3.6"/><line x1="1840.0" y1="1522.8" x2="2430.0" y2="1522.8" stroke="#e6eded" stroke-width="3.6"/><line x1="1840.0" y1="1610.4" x2="2430.0" y2="1610.4" stroke="#e6eded" stroke-width="3.6"/><line x1="1838.0" y1="1316.4" x2="1838.0" y2="1638.0" stroke="#000" stroke-width="2"/><line x1="1837.0" y1="1637.0" x2="2430.0" y2="1637.0" stroke="#000" stroke-width="2"/><line x1="1823.0" y1="1351.7" x2="1838.0" y2="1351.7" stroke="#000" stroke-width="2"/><text transform="translate(1802.0,1351.7) rotate(-90)" text-anchor="middle" class="a">80</text><line x1="1823.0" y1="1437.8" x2="1838.0" y2="1437.8" stroke="#000" stroke-width="2"/><text transform="translate(1802.0,1437.8) rotate(-90)" text-anchor="middle" class="a">60</text><line x1="1823.0" y1="1522.8" x2="1838.0" y2="1522.8" stroke="#000" stroke-width="2"/><text transform="translate(1802.0,1522.8) rotate(-90)" text-anchor="middle" class="a">40</text><line x1="1823.0" y1="1610.4" x2="1838.0" y2="1610.4" stroke="#000" stroke-width="2"/><text transform="translate(1802.0,1610.4) rotate(-90)" text-anchor="middle" class="a">20</text><line x1="1910.0" y1="1637.0" x2="1910.0" y2="1653.0" stroke="#000" stroke-width="2"/><text x="1910.0" y="1697.5" text-anchor="middle" class="a">20</text><line x1="2033.2" y1="1637.0" x2="2033.2" y2="1653.0" stroke="#000" stroke-width="2"/><text x="2033.2" y="1697.5" text-anchor="middle" class="a">40</text><line x1="2157.1" y1="1637.0" x2="2157.1" y2="1653.0" stroke="#000" stroke-width="2"/><text x="2157.1" y="1697.5" text-anchor="middle" class="a">60</text><line x1="2280.9" y1="1637.0" x2="2280.9" y2="1653.0" stroke="#000" stroke-width="2"/><text x="2280.9" y="1697.5" text-anchor="middle" class="a">80</text><line x1="2402.7" y1="1637.0" x2="2402.7" y2="1653.0" stroke="#000" stroke-width="2"/><text x="2402.7" y="1697.5" text-anchor="middle" class="a">100</text><text x="2133.3" y="1738.8" text-anchor="middle" class="a">pct_EU_funds_pc_term_r_4</text><text transform="translate(1756.0,1482.4) rotate(-90)" text-anchor="middle" class="a">pct_EU_funds_pc_term_r</text><text x="1911.5" y="1301.5" class="t" textLength="446.3" lengthAdjust="spacingAndGlyphs">Pomerania: y = 18.84 + 0.64 x</text><circle cx="1863.0" cy="1551.0" r="11.3" fill="#1b4a77"/><circle cx="1944.1" cy="1603.6" r="11.3" fill="#1b4a77"/><circle cx="1982.7" cy="1585.1" r="11.3" fill="#1b4a77"/><circle cx="2012.1" cy="1497.2" r="11.3" fill="#1b4a77"/><circle cx="2024.9" cy="1444.7" r="11.3" fill="#1b4a77"/><circle cx="2044.8" cy="1512.4" r="11.3" fill="#1b4a77"/><circle cx="2065.9" cy="1465.4" r="11.3" fill="#1b4a77"/><circle cx="2103.6" cy="1427.4" r="11.3" fill="#1b4a77"/><circle cx="2133.3" cy="1418.5" r="11.3" fill="#1b4a77"/><circle cx="2174.0" cy="1450.0" r="11.3" fill="#1b4a77"/><circle cx="2197.2" cy="1431.3" r="11.3" fill="#1b4a77"/><circle cx="2219.4" cy="1352.6" r="11.3" fill="#1b4a77"/><circle cx="2236.4" cy="1382.3" r="11.3" fill="#1b4a77"/><circle cx="2262.5" cy="1440.2" r="11.3" fill="#1b4a77"/><circle cx="2282.4" cy="1440.2" r="11.3" fill="#1b4a77"/><circle cx="2304.1" cy="1388.2" r="11.3" fill="#1b4a77"/><circle cx="2327.8" cy="1371.3" r="11.3" fill="#1b4a77"/><circle cx="2345.7" cy="1376.3" r="11.3" fill="#1b4a77"/><circle cx="2361.1" cy="1363.0" r="11.3" fill="#1b4a77"/><circle cx="2395.6" cy="1354.1" r="11.3" fill="#1b4a77"/><line x1="1863.6" y1="1580.7" x2="2395.6" y2="1344.3" stroke="#97323e" stroke-width="3.8"/></g>
<g><line x1="2636.0" y1="1351.7" x2="3226.0" y2="1351.7" stroke="#e6eded" stroke-width="3.6"/><line x1="2636.0" y1="1403.7" x2="3226.0" y2="1403.7" stroke="#e6eded" stroke-width="3.6"/><line x1="2636.0" y1="1455.6" x2="3226.0" y2="1455.6" stroke="#e6eded" stroke-width="3.6"/><line x1="2636.0" y1="1507.0" x2="3226.0" y2="1507.0" stroke="#e6eded" stroke-width="3.6"/><line x1="2636.0" y1="1558.4" x2="3226.0" y2="1558.4" stroke="#e6eded" stroke-width="3.6"/><line x1="2636.0" y1="1610.4" x2="3226.0" y2="1610.4" stroke="#e6eded" stroke-width="3.6"/><line x1="2634.0" y1="1316.4" x2="2634.0" y2="1638.0" stroke="#000" stroke-width="2"/><line x1="2633.0" y1="1637.0" x2="3226.0" y2="1637.0" stroke="#000" stroke-width="2"/><line x1="2618.0" y1="1351.7" x2="2634.0" y2="1351.7" stroke="#000" stroke-width="2"/><text transform="translate(2598.0,1351.7) rotate(-90)" text-anchor="middle" class="a">70</text><line x1="2618.0" y1="1403.7" x2="2634.0" y2="1403.7" stroke="#000" stroke-width="2"/><text transform="translate(2598.0,1403.7) rotate(-90)" text-anchor="middle" class="a">60</text><line x1="2618.0" y1="1455.6" x2="2634.0" y2="1455.6" stroke="#000" stroke-width="2"/><text transform="translate(2598.0,1455.6) rotate(-90)" text-anchor="middle" class="a">50</text><line x1="2618.0" y1="1507.0" x2="2634.0" y2="1507.0" stroke="#000" stroke-width="2"/><text transform="translate(2598.0,1507.0) rotate(-90)" text-anchor="middle" class="a">40</text><line x1="2618.0" y1="1558.4" x2="2634.0" y2="1558.4" stroke="#000" stroke-width="2"/><text transform="translate(2598.0,1558.4) rotate(-90)" text-anchor="middle" class="a">30</text><line x1="2618.0" y1="1610.4" x2="2634.0" y2="1610.4" stroke="#000" stroke-width="2"/><text transform="translate(2598.0,1610.4) rotate(-90)" text-anchor="middle" class="a">20</text><line x1="2659.6" y1="1637.0" x2="2659.6" y2="1653.0" stroke="#000" stroke-width="2"/><text x="2659.6" y="1697.5" text-anchor="middle" class="a">0</text><line x1="2767.7" y1="1637.0" x2="2767.7" y2="1653.0" stroke="#000" stroke-width="2"/><text x="2767.7" y="1697.5" text-anchor="middle" class="a">20</text><line x1="2875.9" y1="1637.0" x2="2875.9" y2="1653.0" stroke="#000" stroke-width="2"/><text x="2875.9" y="1697.5" text-anchor="middle" class="a">40</text><line x1="2982.8" y1="1637.0" x2="2982.8" y2="1653.0" stroke="#000" stroke-width="2"/><text x="2982.8" y="1697.5" text-anchor="middle" class="a">60</text><line x1="3090.6" y1="1637.0" x2="3090.6" y2="1653.0" stroke="#000" stroke-width="2"/><text x="3090.6" y="1697.5" text-anchor="middle" class="a">80</text><line x1="3198.7" y1="1637.0" x2="3198.7" y2="1653.0" stroke="#000" stroke-width="2"/><text x="3198.7" y="1697.5" text-anchor="middle" class="a">100</text><text x="2929.3" y="1738.8" text-anchor="middle" class="a">pct_EU_funds_pc_term_r_4</text><text transform="translate(2552.0,1482.4) rotate(-90)" text-anchor="middle" class="a">pct_EU_funds_pc_term_r</text><text x="2738.3" y="1301.5" class="t" textLength="383.9" lengthAdjust="spacingAndGlyphs">Silesia: y = 34.08 + 0.37 x</text><circle cx="2682.2" cy="1591.7" r="11.3" fill="#1b4a77"/><circle cx="2704.2" cy="1583.4" r="11.3" fill="#1b4a77"/><circle cx="2731.2" cy="1454.5" r="11.3" fill="#1b4a77"/><circle cx="2752.0" cy="1521.3" r="11.3" fill="#1b4a77"/><circle cx="2782.9" cy="1467.5" r="11.3" fill="#1b4a77"/><circle cx="2808.4" cy="1527.2" r="11.3" fill="#1b4a77"/><circle cx="2833.7" cy="1435.7" r="11.3" fill="#1b4a77"/><circle cx="2861.9" cy="1476.4" r="11.3" fill="#1b4a77"/><circle cx="2900.5" cy="1394.2" r="11.3" fill="#1b4a77"/><circle cx="2933.8" cy="1343.7" r="11.3" fill="#1b4a77"/><circle cx="2962.0" cy="1377.2" r="11.3" fill="#1b4a77"/><circle cx="2983.7" cy="1458.9" r="11.3" fill="#1b4a77"/><circle cx="3003.6" cy="1418.5" r="11.3" fill="#1b4a77"/><circle cx="3028.2" cy="1452.7" r="11.3" fill="#1b4a77"/><circle cx="3068.3" cy="1373.4" r="11.3" fill="#1b4a77"/><circle cx="3101.6" cy="1377.2" r="11.3" fill="#1b4a77"/><circle cx="3132.2" cy="1379.3" r="11.3" fill="#1b4a77"/><circle cx="3163.3" cy="1377.2" r="11.3" fill="#1b4a77"/><circle cx="3187.7" cy="1384.7" r="11.3" fill="#1b4a77"/><circle cx="3197.5" cy="1350.5" r="11.3" fill="#1b4a77"/><line x1="2681.3" y1="1528.7" x2="3198.1" y2="1349.6" stroke="#97323e" stroke-width="3.8"/></g>
<g><line x1="249.0" y1="1914.7" x2="837.0" y2="1914.7" stroke="#e6eded" stroke-width="3.6"/><line x1="249.0" y1="1981.5" x2="837.0" y2="1981.5" stroke="#e6eded" stroke-width="3.6"/><line x1="249.0" y1="2047.7" x2="837.0" y2="2047.7" stroke="#e6eded" stroke-width="3.6"/><line x1="249.0" y1="2115.7" x2="837.0" y2="2115.7" stroke="#e6eded" stroke-width="3.6"/><line x1="249.0" y1="2182.0" x2="837.0" y2="2182.0" stroke="#e6eded" stroke-width="3.6"/><line x1="247.0" y1="1889.4" x2="247.0" y2="2209.0" stroke="#000" stroke-width="2"/><line x1="246.0" y1="2208.0" x2="837.0" y2="2208.0" stroke="#000" stroke-width="2"/><line x1="229.0" y1="1914.7" x2="247.0" y2="1914.7" stroke="#000" stroke-width="2"/><text transform="translate(209.8,1914.7) rotate(-90)" text-anchor="middle" class="a">100</text><line x1="229.0" y1="1981.5" x2="247.0" y2="1981.5" stroke="#000" stroke-width="2"/><text transform="translate(209.8,1981.5) rotate(-90)" text-anchor="middle" class="a">80</text><line x1="229.0" y1="2047.7" x2="247.0" y2="2047.7" stroke="#000" stroke-width="2"/><text transform="translate(209.8,2047.7) rotate(-90)" text-anchor="middle" class="a">60</text><line x1="229.0" y1="2115.7" x2="247.0" y2="2115.7" stroke="#000" stroke-width="2"/><text transform="translate(209.8,2115.7) rotate(-90)" text-anchor="middle" class="a">40</text><line x1="229.0" y1="2182.0" x2="247.0" y2="2182.0" stroke="#000" stroke-width="2"/><text transform="translate(209.8,2182.0) rotate(-90)" text-anchor="middle" class="a">20</text><line x1="278.9" y1="2208.0" x2="278.9" y2="2224.0" stroke="#000" stroke-width="2"/><text x="278.9" y="2270.0" text-anchor="middle" class="a">20</text><line x1="412.2" y1="2208.0" x2="412.2" y2="2224.0" stroke="#000" stroke-width="2"/><text x="412.2" y="2270.0" text-anchor="middle" class="a">40</text><line x1="545.3" y1="2208.0" x2="545.3" y2="2224.0" stroke="#000" stroke-width="2"/><text x="545.3" y="2270.0" text-anchor="middle" class="a">60</text><line x1="678.0" y1="2208.0" x2="678.0" y2="2224.0" stroke="#000" stroke-width="2"/><text x="678.0" y="2270.0" text-anchor="middle" class="a">80</text><line x1="811.1" y1="2208.0" x2="811.1" y2="2224.0" stroke="#000" stroke-width="2"/><text x="811.1" y="2270.0" text-anchor="middle" class="a">100</text><text x="542.3" y="2309.8" text-anchor="middle" class="a">pct_EU_funds_pc_term_r_4</text><text transform="translate(165.0,2053.6) rotate(-90)" text-anchor="middle" class="a">pct_EU_funds_pc_term_r</text><text x="289.8" y="1872.5" class="t" textLength="504.6" lengthAdjust="spacingAndGlyphs">Swietokrzyskie: y = 38.90 + 0.36 x</text><circle cx="271.4" cy="2133.0" r="11.3" fill="#1b4a77"/><circle cx="346.3" cy="2047.4" r="11.3" fill="#1b4a77"/><circle cx="406.6" cy="2006.2" r="11.3" fill="#1b4a77"/><circle cx="448.8" cy="2098.8" r="11.3" fill="#1b4a77"/><circle cx="505.8" cy="2055.8" r="11.3" fill="#1b4a77"/><circle cx="534.0" cy="2017.1" r="11.3" fill="#1b4a77"/><circle cx="578.0" cy="2037.9" r="11.3" fill="#1b4a77"/><circle cx="603.8" cy="2083.1" r="11.3" fill="#1b4a77"/><circle cx="623.1" cy="2087.8" r="11.3" fill="#1b4a77"/><circle cx="641.2" cy="2030.5" r="11.3" fill="#1b4a77"/><circle cx="663.2" cy="2098.8" r="11.3" fill="#1b4a77"/><circle cx="695.3" cy="2043.0" r="11.3" fill="#1b4a77"/><circle cx="709.5" cy="2017.1" r="11.3" fill="#1b4a77"/><circle cx="726.5" cy="1986.8" r="11.3" fill="#1b4a77"/><circle cx="739.2" cy="2001.4" r="11.3" fill="#1b4a77"/><circle cx="756.7" cy="1966.1" r="11.3" fill="#1b4a77"/><circle cx="770.1" cy="2038.5" r="11.3" fill="#1b4a77"/><circle cx="780.8" cy="1968.1" r="11.3" fill="#1b4a77"/><circle cx="789.7" cy="1939.9" r="11.3" fill="#1b4a77"/><circle cx="805.2" cy="2008.2" r="11.3" fill="#1b4a77"/><line x1="271.4" y1="2095.3" x2="805.7" y2="1999.3" stroke="#97323e" stroke-width="3.8"/></g>
<g><line x1="1045.0" y1="1914.7" x2="1633.0" y2="1914.7" stroke="#e6eded" stroke-width="3.6"/><line x1="1045.0" y1="1963.7" x2="1633.0" y2="1963.7" stroke="#e6eded" stroke-width="3.6"/><line x1="1045.0" y1="2013.6" x2="1633.0" y2="2013.6" stroke="#e6eded" stroke-width="3.6"/><line x1="1045.0" y1="2063.8" x2="1633.0" y2="2063.8" stroke="#e6eded" stroke-width="3.6"/><line x1="1045.0" y1="2113.7" x2="1633.0" y2="2113.7" stroke="#e6eded" stroke-width="3.6"/><line x1="1045.0" y1="2163.6" x2="1633.0" y2="2163.6" stroke="#e6eded" stroke-width="3.6"/><line x1="1043.0" y1="1889.4" x2="1043.0" y2="2209.0" stroke="#000" stroke-width="2"/><line x1="1042.0" y1="2208.0" x2="1633.0" y2="2208.0" stroke="#000" stroke-width="2"/><line x1="1025.0" y1="1914.7" x2="1043.0" y2="1914.7" stroke="#000" stroke-width="2"/><text transform="translate(1005.8,1914.7) rotate(-90)" text-anchor="middle" class="a">90</text><line x1="1025.0" y1="1963.7" x2="1043.0" y2="1963.7" stroke="#000" stroke-width="2"/><text transform="translate(1005.8,1963.7) rotate(-90)" text-anchor="middle" class="a">80</text><line x1="1025.0" y1="2013.6" x2="1043.0" y2="2013.6" stroke="#000" stroke-width="2"/><text transform="translate(1005.8,2013.6) rotate(-90)" text-anchor="middle" class="a">70</text><line x1="1025.0" y1="2063.8" x2="1043.0" y2="2063.8" stroke="#000" stroke-width="2"/><text transform="translate(1005.8,2063.8) rotate(-90)" text-anchor="middle" class="a">60</text><line x1="1025.0" y1="2113.7" x2="1043.0" y2="2113.7" stroke="#000" stroke-width="2"/><text transform="translate(1005.8,2113.7) rotate(-90)" text-anchor="middle" class="a">50</text><line x1="1025.0" y1="2163.6" x2="1043.0" y2="2163.6" stroke="#000" stroke-width="2"/><text transform="translate(1005.8,2163.6) rotate(-90)" text-anchor="middle" class="a">40</text><line x1="1091.2" y1="2208.0" x2="1091.2" y2="2224.0" stroke="#000" stroke-width="2"/><text x="1091.2" y="2270.0" text-anchor="middle" class="a">20</text><line x1="1220.4" y1="2208.0" x2="1220.4" y2="2224.0" stroke="#000" stroke-width="2"/><text x="1220.4" y="2270.0" text-anchor="middle" class="a">40</text><line x1="1349.6" y1="2208.0" x2="1349.6" y2="2224.0" stroke="#000" stroke-width="2"/><text x="1349.6" y="2270.0" text-anchor="middle" class="a">60</text><line x1="1478.5" y1="2208.0" x2="1478.5" y2="2224.0" stroke="#000" stroke-width="2"/><text x="1478.5" y="2270.0" text-anchor="middle" class="a">80</text><line x1="1607.1" y1="2208.0" x2="1607.1" y2="2224.0" stroke="#000" stroke-width="2"/><text x="1607.1" y="2270.0" text-anchor="middle" class="a">100</text><text x="1338.3" y="2309.8" text-anchor="middle" class="a">pct_EU_funds_pc_term_r_4</text><text transform="translate(959.8,2053.6) rotate(-90)" text-anchor="middle" class="a">pct_EU_funds_pc_term_r</text><text x="1073.8" y="1872.5" class="t" textLength="530.6" lengthAdjust="spacingAndGlyphs">Warmia-Masuria: y = 42.54 + 0.23 x</text><circle cx="1067.4" cy="2040.9" r="11.3" fill="#1b4a77"/><circle cx="1146.7" cy="2176.0" r="11.3" fill="#1b4a77"/><circle cx="1196.3" cy="2083.4" r="11.3" fill="#1b4a77"/><circle cx="1233.8" cy="2168.0" r="11.3" fill="#1b4a77"/><circle cx="1264.1" cy="2021.0" r="11.3" fill="#1b4a77"/><circle cx="1279.8" cy="2182.0" r="11.3" fill="#1b4a77"/><circle cx="1311.6" cy="2066.1" r="11.3" fill="#1b4a77"/><circle cx="1330.3" cy="2034.4" r="11.3" fill="#1b4a77"/><circle cx="1355.5" cy="2129.1" r="11.3" fill="#1b4a77"/><circle cx="1384.3" cy="2061.7" r="11.3" fill="#1b4a77"/><circle cx="1397.7" cy="2088.4" r="11.3" fill="#1b4a77"/><circle cx="1419.1" cy="2157.6" r="11.3" fill="#1b4a77"/><circle cx="1439.9" cy="1931.6" r="11.3" fill="#1b4a77"/><circle cx="1463.1" cy="2117.5" r="11.3" fill="#1b4a77"/><circle cx="1474.3" cy="2160.6" r="11.3" fill="#1b4a77"/><circle cx="1498.1" cy="2106.2" r="11.3" fill="#1b4a77"/><circle cx="1515.0" cy="2073.0" r="11.3" fill="#1b4a77"/><circle cx="1541.8" cy="2042.4" r="11.3" fill="#1b4a77"/><circle cx="1566.1" cy="2020.7" r="11.3" fill="#1b4a77"/><circle cx="1590.2" cy="1946.5" r="11.3" fill="#1b4a77"/><line x1="1067.4" y1="2131.5" x2="1591.4" y2="2038.5" stroke="#97323e" stroke-width="3.8"/></g>
<g><line x1="1840.0" y1="1930.4" x2="2430.0" y2="1930.4" stroke="#e6eded" stroke-width="3.6"/><line x1="1840.0" y1="1989.8" x2="2430.0" y2="1989.8" stroke="#e6eded" stroke-width="3.6"/><line x1="1840.0" y1="2049.8" x2="2430.0" y2="2049.8" stroke="#e6eded" stroke-width="3.6"/><line x1="1840.0" y1="2109.8" x2="2430.0" y2="2109.8" stroke="#e6eded" stroke-width="3.6"/><line x1="1840.0" y1="2169.5" x2="2430.0" y2="2169.5" stroke="#e6eded" stroke-width="3.6"/><line x1="1838.0" y1="1889.4" x2="1838.0" y2="2209.0" stroke="#000" stroke-width="2"/><line x1="1837.0" y1="2208.0" x2="2430.0" y2="2208.0" stroke="#000" stroke-width="2"/><line x1="1823.0" y1="1930.4" x2="1838.0" y2="1930.4" stroke="#000" stroke-width="2"/><text transform="translate(1802.0,1930.4) rotate(-90)" text-anchor="middle" class="a">60</text><line x1="1823.0" y1="1989.8" x2="1838.0" y2="1989.8" stroke="#000" stroke-width="2"/><text transform="translate(1802.0,1989.8) rotate(-90)" text-anchor="middle" class="a">50</text><line x1="1823.0" y1="2049.8" x2="1838.0" y2="2049.8" stroke="#000" stroke-width="2"/><text transform="translate(1802.0,2049.8) rotate(-90)" text-anchor="middle" class="a">40</text><line x1="1823.0" y1="2109.8" x2="1838.0" y2="2109.8" stroke="#000" stroke-width="2"/><text transform="translate(1802.0,2109.8) rotate(-90)" text-anchor="middle" class="a">30</text><line x1="1823.0" y1="2169.5" x2="1838.0" y2="2169.5" stroke="#000" stroke-width="2"/><text transform="translate(1802.0,2169.5) rotate(-90)" text-anchor="middle" class="a">20</text><line x1="1863.6" y1="2208.0" x2="1863.6" y2="2224.0" stroke="#000" stroke-width="2"/><text x="1863.6" y="2270.0" text-anchor="middle" class="a">0</text><line x1="1987.2" y1="2208.0" x2="1987.2" y2="2224.0" stroke="#000" stroke-width="2"/><text x="1987.2" y="2270.0" text-anchor="middle" class="a">20</text><line x1="2110.1" y1="2208.0" x2="2110.1" y2="2224.0" stroke="#000" stroke-width="2"/><text x="2110.1" y="2270.0" text-anchor="middle" class="a">40</text><line x1="2232.8" y1="2208.0" x2="2232.8" y2="2224.0" stroke="#000" stroke-width="2"/><text x="2232.8" y="2270.0" text-anchor="middle" class="a">60</text><line x1="2355.5" y1="2208.0" x2="2355.5" y2="2224.0" stroke="#000" stroke-width="2"/><text x="2355.5" y="2270.0" text-anchor="middle" class="a">80</text><text x="2133.3" y="2309.8" text-anchor="middle" class="a">pct_EU_funds_pc_term_r_4</text><text transform="translate(1756.0,2053.6) rotate(-90)" text-anchor="middle" class="a">pct_EU_funds_pc_term_r</text><text x="1880.1" y="1872.5" class="t" textLength="509.8" lengthAdjust="spacingAndGlyphs">Greater Poland: y = 26.35 + 0.34 x</text><circle cx="1874.0" cy="2182.0" r="11.3" fill="#1b4a77"/><circle cx="1884.7" cy="2170.1" r="11.3" fill="#1b4a77"/><circle cx="1900.2" cy="2141.0" r="11.3" fill="#1b4a77"/><circle cx="1916.5" cy="2106.2" r="11.3" fill="#1b4a77"/><circle cx="1935.2" cy="2140.4" r="11.3" fill="#1b4a77"/><circle cx="1952.7" cy="1976.5" r="11.3" fill="#1b4a77"/><circle cx="1973.8" cy="2060.2" r="11.3" fill="#1b4a77"/><circle cx="1990.2" cy="2094.4" r="11.3" fill="#1b4a77"/><circle cx="2004.7" cy="2004.4" r="11.3" fill="#1b4a77"/><circle cx="2030.8" cy="2080.4" r="11.3" fill="#1b4a77"/><circle cx="2060.0" cy="2070.6" r="11.3" fill="#1b4a77"/><circle cx="2083.7" cy="2019.2" r="11.3" fill="#1b4a77"/><circle cx="2108.1" cy="2077.1" r="11.3" fill="#1b4a77"/><circle cx="2138.4" cy="1966.1" r="11.3" fill="#1b4a77"/><circle cx="2180.8" cy="2013.3" r="11.3" fill="#1b4a77"/><circle cx="2218.8" cy="2037.3" r="11.3" fill="#1b4a77"/><circle cx="2250.0" cy="2046.8" r="11.3" fill="#1b4a77"/><circle cx="2299.6" cy="2040.3" r="11.3" fill="#1b4a77"/><circle cx="2347.7" cy="1983.0" r="11.3" fill="#1b4a77"/><circle cx="2402.7" cy="1914.7" r="11.3" fill="#1b4a77"/><line x1="1873.4" y1="2129.4" x2="2403.6" y2="1952.7" stroke="#97323e" stroke-width="3.8"/></g>
<g><line x1="2636.0" y1="1934.6" x2="3226.0" y2="1934.6" stroke="#e6eded" stroke-width="3.6"/><line x1="2636.0" y1="2015.7" x2="3226.0" y2="2015.7" stroke="#e6eded" stroke-width="3.6"/><line x1="2636.0" y1="2099.7" x2="3226.0" y2="2099.7" stroke="#e6eded" stroke-width="3.6"/><line x1="2636.0" y1="2181.4" x2="3226.0" y2="2181.4" stroke="#e6eded" stroke-width="3.6"/><line x1="2634.0" y1="1889.4" x2="2634.0" y2="2209.0" stroke="#000" stroke-width="2"/><line x1="2633.0" y1="2208.0" x2="3226.0" y2="2208.0" stroke="#000" stroke-width="2"/><line x1="2618.0" y1="1934.6" x2="2634.0" y2="1934.6" stroke="#000" stroke-width="2"/><text transform="translate(2598.0,1934.6) rotate(-90)" text-anchor="middle" class="a">80</text><line x1="2618.0" y1="2015.7" x2="2634.0" y2="2015.7" stroke="#000" stroke-width="2"/><text transform="translate(2598.0,2015.7) rotate(-90)" text-anchor="middle" class="a">60</text><line x1="2618.0" y1="2099.7" x2="2634.0" y2="2099.7" stroke="#000" stroke-width="2"/><text transform="translate(2598.0,2099.7) rotate(-90)" text-anchor="middle" class="a">40</text><line x1="2618.0" y1="2181.4" x2="2634.0" y2="2181.4" stroke="#000" stroke-width="2"/><text transform="translate(2598.0,2181.4) rotate(-90)" text-anchor="middle" class="a">20</text><line x1="2659.6" y1="2208.0" x2="2659.6" y2="2224.0" stroke="#000" stroke-width="2"/><text x="2659.6" y="2270.0" text-anchor="middle" class="a">0</text><line x1="2767.7" y1="2208.0" x2="2767.7" y2="2224.0" stroke="#000" stroke-width="2"/><text x="2767.7" y="2270.0" text-anchor="middle" class="a">20</text><line x1="2875.9" y1="2208.0" x2="2875.9" y2="2224.0" stroke="#000" stroke-width="2"/><text x="2875.9" y="2270.0" text-anchor="middle" class="a">40</text><line x1="2982.8" y1="2208.0" x2="2982.8" y2="2224.0" stroke="#000" stroke-width="2"/><text x="2982.8" y="2270.0" text-anchor="middle" class="a">60</text><line x1="3090.6" y1="2208.0" x2="3090.6" y2="2224.0" stroke="#000" stroke-width="2"/><text x="3090.6" y="2270.0" text-anchor="middle" class="a">80</text><line x1="3198.7" y1="2208.0" x2="3198.7" y2="2224.0" stroke="#000" stroke-width="2"/><text x="3198.7" y="2270.0" text-anchor="middle" class="a">100</text><text x="2929.3" y="2309.8" text-anchor="middle" class="a">pct_EU_funds_pc_term_r_4</text><text transform="translate(2552.0,2053.6) rotate(-90)" text-anchor="middle" class="a">pct_EU_funds_pc_term_r</text><text x="2631.5" y="1872.5" class="t" textLength="529.8" lengthAdjust="spacingAndGlyphs">West Pomerania: y = 30.67 + 0.50 x</text><circle cx="2698.2" cy="2100.3" r="11.3" fill="#1b4a77"/><circle cx="2732.7" cy="2140.4" r="11.3" fill="#1b4a77"/><circle cx="2756.5" cy="2136.8" r="11.3" fill="#1b4a77"/><circle cx="2784.4" cy="2115.2" r="11.3" fill="#1b4a77"/><circle cx="2806.9" cy="2064.1" r="11.3" fill="#1b4a77"/><circle cx="2822.4" cy="2032.0" r="11.3" fill="#1b4a77"/><circle cx="2837.2" cy="2057.8" r="11.3" fill="#1b4a77"/><circle cx="2859.5" cy="2106.2" r="11.3" fill="#1b4a77"/><circle cx="2870.5" cy="2064.1" r="11.3" fill="#1b4a77"/><circle cx="2887.7" cy="1957.1" r="11.3" fill="#1b4a77"/><circle cx="2905.6" cy="2055.8" r="11.3" fill="#1b4a77"/><circle cx="2929.3" cy="2008.2" r="11.3" fill="#1b4a77"/><circle cx="2942.1" cy="2069.1" r="11.3" fill="#1b4a77"/><circle cx="2959.9" cy="2060.2" r="11.3" fill="#1b4a77"/><circle cx="3019.0" cy="1963.1" r="11.3" fill="#1b4a77"/><circle cx="3065.3" cy="2040.9" r="11.3" fill="#1b4a77"/><circle cx="3094.7" cy="1937.8" r="11.3" fill="#1b4a77"/><circle cx="3116.4" cy="1974.7" r="11.3" fill="#1b4a77"/><circle cx="3157.1" cy="1914.7" r="11.3" fill="#1b4a77"/><circle cx="3184.7" cy="1942.3" r="11.3" fill="#1b4a77"/><line x1="2697.7" y1="2123.5" x2="3184.7" y2="1936.4" stroke="#97323e" stroke-width="3.8"/></g>
</svg></body></html>
